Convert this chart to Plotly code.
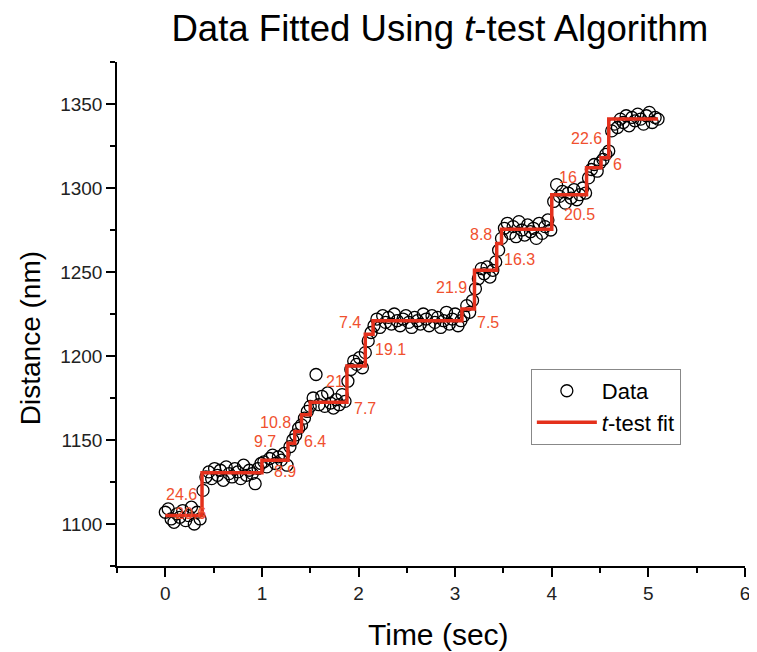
import plotly.graph_objects as go

# ---- data ----
TIME = [0.00, 0.03, 0.06, 0.09, 0.12, 0.15, 0.18, 0.21, 0.24, 0.27, 0.30, 0.33, 0.36,
        0.39, 0.42, 0.45, 0.48, 0.51, 0.54, 0.57, 0.60, 0.63, 0.66, 0.69, 0.72, 0.75,
        0.78, 0.81, 0.84, 0.87, 0.90, 0.93, 0.96, 0.99,
        1.02, 1.05, 1.08, 1.11, 1.14, 1.17, 1.20, 1.23, 1.26,
        1.29, 1.32, 1.35, 1.38, 1.41, 1.44, 1.47, 1.50,
        1.53, 1.56, 1.59, 1.62, 1.65, 1.68, 1.71, 1.74, 1.77, 1.80, 1.83, 1.86,
        1.89, 1.92, 1.95, 1.98, 2.01, 2.04, 2.07, 2.10, 2.13,
        2.16, 2.19, 2.22, 2.25, 2.28, 2.31, 2.34, 2.37, 2.40, 2.43, 2.46, 2.49, 2.52,
        2.55, 2.58, 2.61, 2.64, 2.67, 2.70, 2.73, 2.76, 2.79, 2.82, 2.85, 2.88, 2.91,
        2.94, 2.97, 3.00, 3.03, 3.06,
        3.09, 3.12, 3.15, 3.18, 3.21, 3.24, 3.27, 3.30, 3.33, 3.36, 3.39, 3.42, 3.45,
        3.48, 3.51, 3.54, 3.57, 3.60, 3.63, 3.66, 3.69, 3.72, 3.75, 3.78, 3.81, 3.84,
        3.87, 3.90, 3.93, 3.96, 3.99,
        4.02, 4.05, 4.08, 4.11, 4.14, 4.17, 4.20, 4.23, 4.26, 4.29, 4.32, 4.35,
        4.38, 4.41, 4.44, 4.47, 4.50, 4.53, 4.56, 4.59,
        4.62, 4.65, 4.68, 4.71, 4.74, 4.77, 4.80, 4.83, 4.86, 4.89, 4.92, 4.95, 4.98,
        5.01, 5.04, 5.07, 5.10]

DIST = [1107, 1109, 1103, 1101, 1106, 1104, 1108, 1102, 1105, 1110, 1100, 1107, 1103,
        1120, 1128, 1131, 1127, 1133, 1129, 1132, 1126, 1134, 1130, 1128, 1133, 1131,
        1127, 1135, 1129, 1132, 1130, 1124, 1133, 1136,
        1137, 1134, 1139, 1141, 1136, 1140, 1138, 1142, 1135,
        1146, 1150, 1153, 1157, 1159, 1163, 1167, 1170,
        1175, 1189, 1171, 1176, 1170, 1178, 1172, 1169, 1174, 1171, 1177, 1173,
        1185, 1192, 1197, 1195, 1199, 1193, 1202, 1209, 1214,
        1218, 1222, 1217, 1224, 1220, 1223, 1219, 1225, 1221, 1218, 1222, 1224, 1220,
        1217, 1223, 1221, 1219, 1225, 1222, 1218, 1224, 1220, 1223, 1217, 1221, 1226,
        1219, 1222, 1225, 1218, 1221,
        1224, 1230, 1226, 1233, 1240, 1246, 1252, 1249, 1253, 1247, 1251, 1256, 1263,
        1270, 1276, 1279, 1273, 1277, 1271, 1280, 1275, 1272, 1278, 1274, 1276, 1270,
        1279, 1273, 1277, 1281, 1275,
        1292, 1302, 1295, 1298, 1291, 1297, 1294, 1299, 1293, 1296, 1300, 1297,
        1306, 1311, 1314, 1310, 1315, 1317, 1320, 1322,
        1334, 1338, 1336, 1341, 1339, 1343, 1337, 1342, 1340, 1344, 1341, 1338, 1343,
        1345, 1339, 1342, 1341]

FIT_T = [0.00, 0.38, 1.00, 1.27, 1.34, 1.41, 1.50, 1.88, 2.07, 2.15, 3.07, 3.20,
         3.43, 3.48, 4.00, 4.36, 4.51, 4.59, 5.10]
FIT_Y = [1105, 1130.5, 1138, 1148, 1155, 1165, 1172.5, 1194, 1213, 1221, 1228, 1251,
         1267, 1275.5, 1296, 1312, 1318, 1341, 1341]

STEP_LABELS = ["24.6", "20.6", "9.7", "8.9", "10.8", "6.4", "21", "7.7", "7.4", "19.1",
               "21.9", "7.5", "8.8", "16.3", "20.5", "16", "6", "22.6"]
LABEL_X = [0.17, 0.26, 1.03, 1.24, 1.14, 1.55, 1.76, 2.07, 1.91, 2.33,
           2.96, 3.34, 3.27, 3.67, 4.29, 4.17, 4.68, 4.36]
LABEL_Y = [1117.3, 1106, 1149.4, 1131.5, 1160.3, 1149.4, 1185.1, 1168.5, 1219.8, 1204,
           1240.7, 1219.8, 1272.4, 1257.6, 1284.3, 1306.1, 1314.1, 1329.6]

FONT = "Liberation Sans, Arial, sans-serif"
LABEL_COLOR = "#f0502e"
FIT_COLOR = "#e4301c"

fig = go.Figure()
fig.add_trace(go.Scatter(
    x=TIME, y=DIST, mode="markers", name="Data",
    marker=dict(symbol="circle-open", size=12, color="black", line=dict(width=1.3)),
))
fig.add_trace(go.Scatter(
    x=FIT_T, y=FIT_Y, mode="lines", name="<i>t</i>-test fit",
    line=dict(color=FIT_COLOR, width=3.5, shape="hv"),
))

for txt, lx, ly in zip(STEP_LABELS, LABEL_X, LABEL_Y):
    fig.add_annotation(x=lx, y=ly, text=txt, showarrow=False,
                       font=dict(family=FONT, size=16, color=LABEL_COLOR))

# axis titles placed as paper-anchored text to match the reference positions
fig.add_annotation(text="Time (sec)", xref="paper", yref="paper", x=0.5127, y=-0.135,
                   xanchor="center", yanchor="middle", showarrow=False,
                   font=dict(family=FONT, size=30, color="black"))
fig.add_annotation(text="Distance (nm)", xref="paper", yref="paper", x=-0.1385, y=0.452,
                   xanchor="center", yanchor="middle", showarrow=False, textangle=-90,
                   font=dict(family=FONT, size=28, color="black"))

axis_common = dict(
    showgrid=False, zeroline=False, showline=True, linecolor="black", linewidth=1.5,
    ticks="outside", ticklen=9, tickwidth=1.5, tickcolor="black", automargin=False,
    tickfont=dict(family=FONT, size=19, color="#222"),
)

# page body has an 8px margin, so the figure is sized/offset to compensate
fig.update_layout(
    width=749, height=644,
    margin=dict(l=109, r=12, t=54, b=86),
    paper_bgcolor="white", plot_bgcolor="white",
    title=dict(text="Data Fitted Using <i>t</i>-test Algorithm", x=0.514, xref="paper",
               xanchor="center", y=0.968, yanchor="middle",
               font=dict(family=FONT, size=36.6, color="black")),
    xaxis=dict(range=[-0.5, 6], tick0=0, dtick=1,
               minor=dict(dtick=0.5, tick0=0, ticks="outside", ticklen=5, tickwidth=1.5,
                          tickcolor="black"),
               **axis_common),
    yaxis=dict(range=[1075, 1375], tick0=1100, dtick=50,
               minor=dict(dtick=25, tick0=1100, ticks="outside", ticklen=5, tickwidth=1.5,
                          tickcolor="black"),
               **axis_common),
    legend=dict(x=0.659, y=0.391, xanchor="left", yanchor="top",
                bordercolor="#888", borderwidth=1, bgcolor="white",
                font=dict(family=FONT, size=22, color="black"),
                itemwidth=60, tracegroupgap=0),
    showlegend=True,
)

fig.write_html("out.html")
